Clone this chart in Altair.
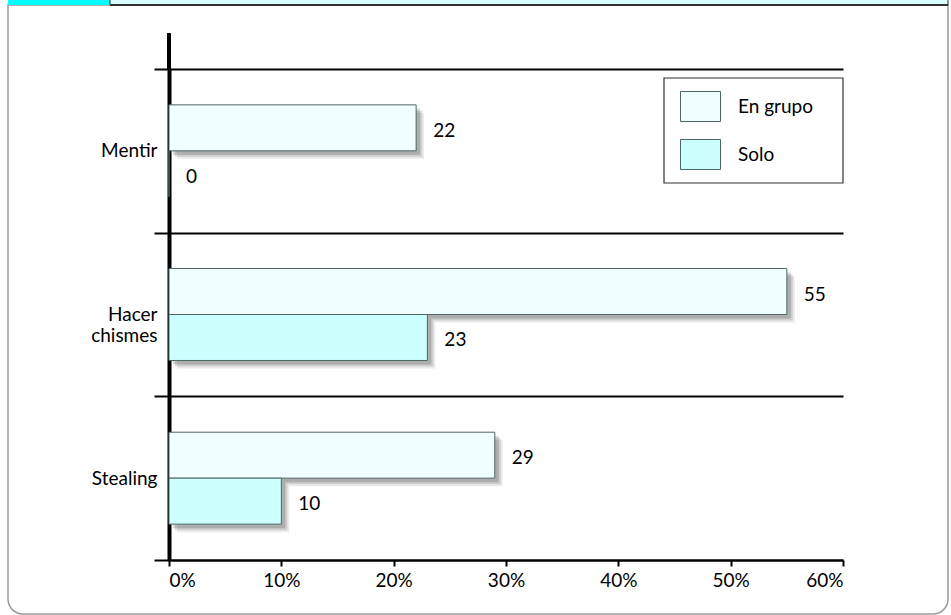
import altair as alt
import pandas as pd

categories = ["Mentir", "Hacer chismes", "Stealing"]
series = ["En grupo", "Solo"]
en_grupo = [22, 55, 29]
solo = [0, 23, 10]
x_ticks = [0, 10, 20, 30, 40, 50, 60]

rows = []
for c, g, s in zip(categories, en_grupo, solo):
    rows.append({"cat": c, "serie": series[0], "val": g})
    rows.append({"cat": c, "serie": series[1], "val": s})
df = pd.DataFrame(rows)

FONT = "Lato"
FS = 19
W, H = 674, 491

y_enc = alt.Y("cat:N", sort=categories, scale=alt.Scale(paddingInner=0, paddingOuter=0),
              axis=alt.Axis(title=None, domainColor="black", domainWidth=4,
                            tickBand="extent", tickSize=15, tickColor="black", tickWidth=2,
                            grid=True, gridColor="black", gridWidth=2,
                            labelFontSize=FS, labelFont=FONT, labelColor="black",
                            labelPadding=-3, labelAlign="right",
                            labelExpr="datum.label == 'Hacer chismes' ? ['Hacer', 'chismes'] : datum.label"))


def yoff(off=0):
    return alt.YOffset("serie:N", sort=series,
                       scale=alt.Scale(type="band", domain=series, range=[off, H / 3 + off],
                                       paddingInner=0, paddingOuter=0.78))


x_enc = alt.X("val:Q", scale=alt.Scale(domain=[0, 60], nice=False),
              axis=alt.Axis(title=None, values=x_ticks, grid=False, domainColor="black", domainWidth=2,
                            tickColor="black", tickWidth=2, tickSize=6, labelFontSize=FS,
                            labelFont=FONT, labelColor="black", labelPadding=5,
                            labelExpr="datum.value + '%'"))

one = alt.Data(values=[{}])

frame = alt.Chart(one).mark_rect(fillOpacity=0, stroke="#999999", strokeWidth=1.5,
                                 cornerRadiusBottomLeft=15, cornerRadiusBottomRight=15).encode(
    x=alt.value(-161), x2=alt.value(779), y=alt.value(-64), y2=alt.value(545))
band1 = alt.Chart(one).mark_rect(fill="#00FFFF").encode(
    x=alt.value(-161), x2=alt.value(-59), y=alt.value(-69), y2=alt.value(-64))
band2 = alt.Chart(one).mark_rect(fill="#D9FFFF", stroke="#333333", strokeWidth=1).encode(
    x=alt.value(-59), x2=alt.value(779), y=alt.value(-70), y2=alt.value(-64))
band_line = alt.Chart(one).mark_rule(color="#333333", strokeWidth=2).encode(
    x=alt.value(-59), x2=alt.value(779), y=alt.value(-64))
axis_ext = alt.Chart(one).mark_rule(color="black", strokeWidth=4).encode(
    x=alt.value(0), y=alt.value(-36), y2=alt.value(0))
legend_box = alt.Chart(one).mark_rect(fill="white", stroke="#333333", strokeWidth=1.2).encode(
    x=alt.value(495), x2=alt.value(674), y=alt.value(9), y2=alt.value(114))

base = alt.Chart(df)


def shadow(off, op):
    return base.mark_bar(color="#000000", opacity=op, xOffset=off).encode(
        x=x_enc, y=y_enc, yOffset=yoff(off))


bars = base.mark_bar(stroke="#4d6666", strokeWidth=1).encode(
    x=x_enc, y=y_enc, yOffset=yoff(0),
    color=alt.Color("serie:N", sort=series,
                    scale=alt.Scale(domain=series, range=["#F0FFFF", "#CCFFFF"]),
                    legend=alt.Legend(title=None, orient="none", legendX=495, legendY=9,
                                      padding=8,
                                      symbolType="M-1,-0.75H1V0.75H-1Z", symbolSize=1600,
                                      symbolStrokeColor="#4d6666", symbolStrokeWidth=1,
                                      symbolOffset=8, labelOffset=17, labelFontSize=FS,
                                      labelFont=FONT, labelColor="black", rowPadding=10)))

labels = base.mark_text(align="left", baseline="middle", dx=17, dy=3, fontSize=FS, font=FONT,
                        color="black").encode(
    x=x_enc, y=y_enc, yOffset=yoff(0), text=alt.Text("val:Q"))

chart = alt.layer(frame, band1, band2, band_line, shadow(8, 0.08), shadow(6, 0.12), shadow(4, 0.16),
                  bars, labels, axis_ext, legend_box).resolve_scale(yOffset="independent").properties(
    width=W, height=H, background="white",
    padding={"left": 169, "top": 69, "right": 108, "bottom": 55},
    autosize=alt.AutoSizeParams(type="none"),
).configure_view(stroke=None)

chart.save("out.html", embed_options={"renderer": "svg", "actions": False})
